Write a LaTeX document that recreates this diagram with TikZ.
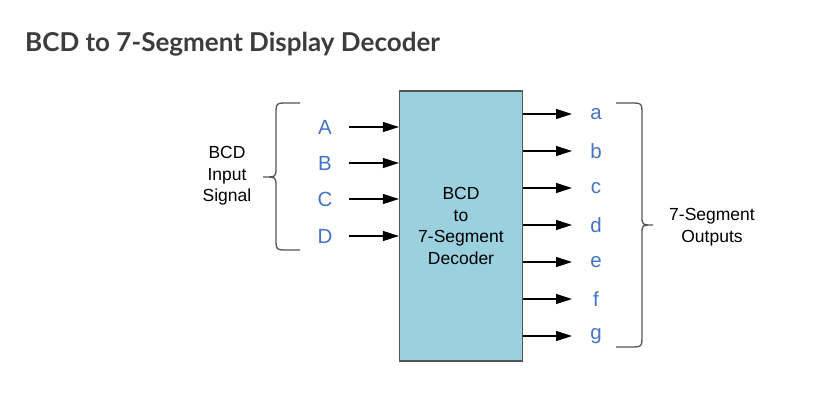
\documentclass[tikz,border=0pt]{standalone}
\usepackage{fontspec}
\setmainfont{Liberation Sans}
\newfontfamily\titlefont{Lato}
\usetikzlibrary{arrows.meta}
\definecolor{boxblue}{HTML}{9BD0DF}
\definecolor{pinblue}{HTML}{4673C4}
\definecolor{titlegray}{HTML}{3C3C3C}
\definecolor{edgegray}{HTML}{555555}

\begin{document}
\begin{tikzpicture}[x=1pt, y=-1pt,
  sig/.style={draw=black, line width=1.2pt, -{Triangle[length=16pt,width=10pt]}},
  pin/.style={text=pinblue, font=\fontsize{20.5}{24}\selectfont, inner sep=0pt},
  lbl/.style={text=black, font=\fontsize{17.5}{21.5}\selectfont, align=center},
  brace/.style={draw=edgegray, line width=1.3pt}]
  \useasboundingbox[fill=white] (0,0) rectangle (822,404);
  % title
  \node[anchor=base west, inner sep=0pt, text=titlegray, font=\titlefont\bfseries\fontsize{26}{30}\selectfont] (title) at (25,52) {BCD to 7-Segment Display Decoder};
  % decoder block
  \node[lbl, draw=edgegray, fill=boxblue, line width=1.2pt, minimum width=123pt, minimum height=270pt] (dec) at (461,226) {BCD\\to\\7-Segment\\Decoder};
  % inputs
  \foreach \l/\y in {A/127,B/163,C/199,D/236} {
    \node[pin] (in\l) at (325,\y) {\l};
    \draw[sig, shorten <=24pt] (in\l.center) -- (in\l -| dec.west);
  }
  % outputs
  \foreach \l/\y in {a/114,b/151,c/188,d/225,e/262,f/299,g/336} {
    \node[pin] (out\l) at (596,\y) {\l};
    \draw[sig, shorten >=24pt] (out\l -| dec.east) -- (out\l.center);
  }
  % braces and labels
  \draw[brace] (300,103) -- (288,103) .. controls (276,103) .. (276,115) -- (276,168)
    .. controls (276,177) .. (263,177) .. controls (276,177) .. (276,186) -- (276,238)
    .. controls (276,250) .. (288,250) -- (300,250);
  \node[lbl] (inlbl) at (227,176) {BCD\\Input\\Signal};
  \draw[brace] (616,103) -- (630,103) .. controls (642,103) .. (642,115) -- (642,216)
    .. controls (642,225) .. (653,225) .. controls (642,225) .. (642,234) -- (642,335)
    .. controls (642,347) .. (630,347) -- (616,347);
  \node[lbl] (outlbl) at (712,227) {7-Segment\\Outputs};
\end{tikzpicture}
\end{document}
